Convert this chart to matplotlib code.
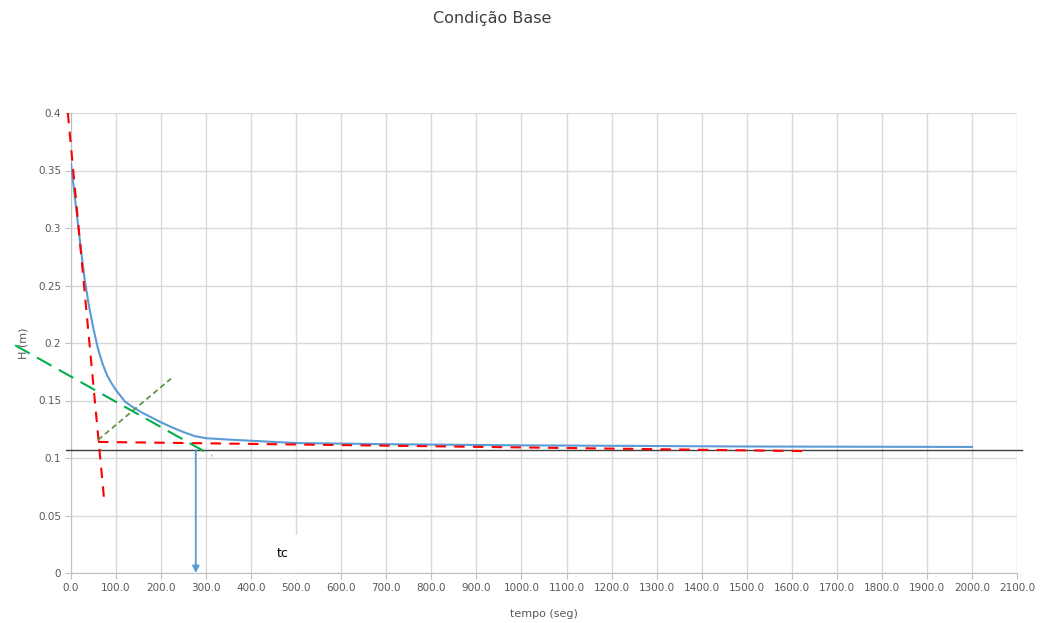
import matplotlib
matplotlib.use("Agg")
import matplotlib.pyplot as plt
from matplotlib.patches import Rectangle

# Data
t_seg = [0, 10, 20, 30, 40, 50, 60, 70, 80, 90, 100, 120, 140, 160, 180, 200, 225,
         250, 275, 300, 350, 400, 500, 700, 1000, 1500, 2000]
h_m = [0.356, 0.322, 0.288, 0.256, 0.232, 0.212, 0.195, 0.182, 0.172, 0.165, 0.159,
       0.149, 0.1435, 0.139, 0.135, 0.131, 0.1265, 0.1225, 0.119, 0.1172, 0.1160,
       0.1150, 0.1130, 0.1120, 0.1110, 0.1100, 0.1096]

red_steep_x = [-7, 73]
red_steep_y = [0.400, 0.066]
red_flat_x = [60, 1625]
red_flat_y = [0.114, 0.106]
green_long_x = [-124, 313]
green_long_y = [0.198, 0.102]
olive_x = [60, 222]
olive_y = [0.1157, 0.169]
base_x = [-10, 2110]
base_y = [0.107, 0.107]
tc_x = 277
tc_y_top = 0.107

x_ticks = list(range(0, 2101, 100))
x_labels = [f"{v:.1f}" for v in x_ticks]
y_ticks = [0, 0.05, 0.1, 0.15, 0.2, 0.25, 0.3, 0.35, 0.4]
y_labels = ["0", "0.05", "0.1", "0.15", "0.2", "0.25", "0.3", "0.35", "0.4"]

fig = plt.figure(figsize=(10.45, 6.23), dpi=100)
ax = fig.add_axes([71/1045, 1 - 573/623, (1017 - 71)/1045, (573 - 113)/623])

ax.set_xlim(0, 2100)
ax.set_ylim(0, 0.4)
ax.set_xticks(x_ticks)
ax.set_xticklabels(x_labels, fontsize=7.5, color="#595959")
ax.set_yticks(y_ticks)
ax.set_yticklabels(y_labels, fontsize=7.5, color="#595959")
ax.grid(True, color="#d9d9d9", linewidth=1)
ax.set_axisbelow(True)
for s in ["top", "right"]:
    ax.spines[s].set_visible(False)
for s in ["left", "bottom"]:
    ax.spines[s].set_color("#bfbfbf")
ax.tick_params(axis="both", length=4, color="#bfbfbf", pad=3)

ax.plot(t_seg, h_m, color="#5B9BD5", linewidth=1.5, zorder=3)
ax.plot(base_x, base_y, color="#404040", linewidth=1.0, clip_on=False, zorder=4)
ax.plot(red_steep_x, red_steep_y, color="#FF0000", linewidth=1.5, linestyle=(0, (5, 4)),
        clip_on=False, zorder=5)
ax.plot(red_flat_x, red_flat_y, color="#FF0000", linewidth=1.5, linestyle=(0, (5, 4)),
        zorder=5)
ax.plot(green_long_x, green_long_y, color="#00B050", linewidth=1.5, linestyle=(0, (8, 4)),
        clip_on=False, zorder=5)
ax.plot(olive_x, olive_y, color="#5E9446", linewidth=1.3, linestyle=(0, (3, 2)),
        zorder=5)
ax.annotate("", xy=(tc_x, 0.0), xytext=(tc_x, tc_y_top),
            arrowprops=dict(arrowstyle="-|>", color="#5B9BD5", lw=1.3,
                            mutation_scale=10, shrinkA=0, shrinkB=0), zorder=6)

ax.add_patch(Rectangle((430, -0.005), 82, 0.038, facecolor="white", edgecolor="none",
                       clip_on=False, zorder=2.5))
ax.text(470, 0.017, "tc", fontsize=9, color="black", ha="center", va="center", zorder=7)

ax.set_xlabel("tempo (seg)", fontsize=8, color="#595959", labelpad=12)
ax.set_ylabel("H (m)", fontsize=8, color="#595959", labelpad=7)
fig.text(492/1045, 1 - 18/623, "Condição Base", fontsize=11.5, color="#404040",
         ha="center", va="center")

fig.savefig("out.png", dpi=100)
